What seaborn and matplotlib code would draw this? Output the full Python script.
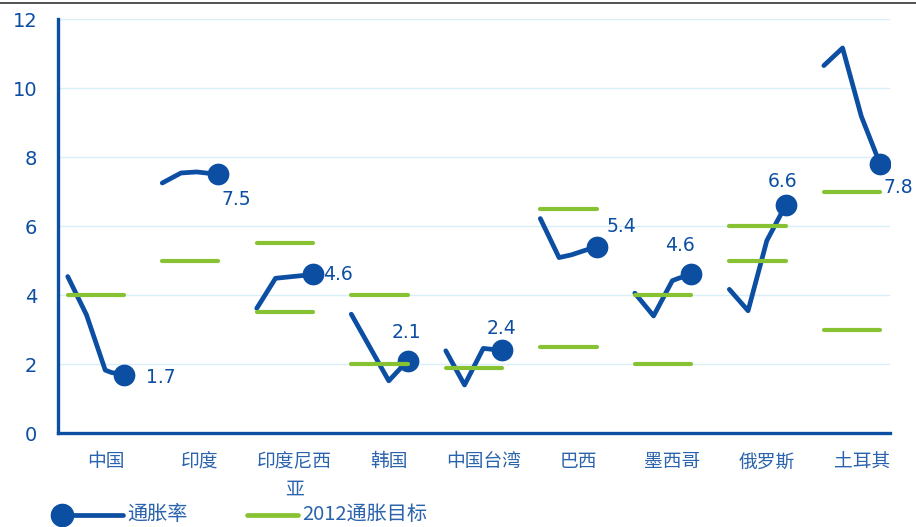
import matplotlib
matplotlib.use("Agg")
import matplotlib.pyplot as plt
from matplotlib.lines import Line2D
import numpy as np
import pandas as pd
import seaborn as sns

# ---- data -------------------------------------------------------------
regions = ["中国", "印度", "印度尼西亚", "韩国", "中国台湾", "巴西", "墨西哥", "俄罗斯", "土耳其"]
region_labels = ["中国", "印度", "印度尼西\n亚", "韩国", "中国台湾", "巴西", "墨西哥", "俄罗斯", "土耳其"]

# month index within the year (0 = Jan) for each inflation reading
cpi_months = [
    [0, 3, 6, 7, 9],
    [0, 3, 5.5, 9],
    [0, 3, 9],
    [0, 6, 9],
    [0, 3, 6, 7, 9],
    [0, 3, 5, 7, 9],
    [0, 3, 6, 7, 9],
    [0, 3, 6, 7, 9],
    [0, 3, 6, 9],
]
# inflation rate (%); the last reading of each series is the latest value
cpi_values = [
    [4.54, 3.43, 1.83, 1.76, 1.7],
    [7.25, 7.54, 7.57, 7.5],
    [3.62, 4.49, 4.6],
    [3.45, 1.52, 2.1],
    [2.39, 1.40, 2.46, 2.44, 2.4],
    [6.22, 5.09, 5.17, 5.29, 5.4],
    [4.06, 3.40, 4.42, 4.49, 4.6],
    [4.17, 3.55, 5.58, 5.92, 6.6],
    [10.65, 11.16, 9.18, 7.8],
]
# 2012 inflation targets (upper / lower bound, None where there is a single target)
target_upper = [4.0, 5.0, 5.5, 4.0, 1.9, 6.5, 4.0, 6.0, 7.0]
target_lower = [None, None, 3.5, 2.0, None, 2.5, 2.0, 5.0, 3.0]

yticks = [0, 2, 4, 6, 8, 10, 12]

# ---- style ------------------------------------------------------------
BLUE = "#0b4ea2"
GREEN = "#86c232"
GRID = "#d8eef9"
XLAB = "#2b63ad"

sns.set_theme(style="white")
plt.rcParams["font.family"] = ["DejaVu Sans", "Noto Sans CJK SC"]

W, H = 916, 527
fig = plt.figure(figsize=(W / 100, H / 100), dpi=100)
ax = fig.add_axes([58.3 / W, 1 - 433.3 / H, (890 - 58.3) / W, (433.3 - 19) / H])

# x position of a reading inside its category slot
SLOT_START, SLOT_SPAN, LAST_MONTH = -0.40, 0.595, 9.0


def slot_x(i, m):
    return i + SLOT_START + SLOT_SPAN * np.asarray(m, dtype=float) / LAST_MONTH


rows = []
for i, r in enumerate(regions):
    for m, v in zip(cpi_months[i], cpi_values[i]):
        rows.append({"region": r, "x": float(slot_x(i, m)), "value": v})
df = pd.DataFrame(rows)

latest = pd.DataFrame({
    "region": regions,
    "x": [float(slot_x(i, cpi_months[i][-1])) for i in range(len(regions))],
    "value": [v[-1] for v in cpi_values],
})

# grid
for yv in yticks[1:]:
    ax.axhline(yv, color=GRID, lw=1.0, zorder=0)

sns.lineplot(data=df, x="x", y="value", units="region", estimator=None, sort=False,
             color=BLUE, lw=3.4, solid_capstyle="round", solid_joinstyle="round",
             ax=ax, zorder=3, legend=False)
sns.scatterplot(data=latest, x="x", y="value", s=245, color=BLUE, edgecolor=BLUE,
                linewidth=0, ax=ax, zorder=4, legend=False)

# target bars
for i in range(len(regions)):
    x0, x1 = float(slot_x(i, 0)), float(slot_x(i, LAST_MONTH))
    for t in (target_upper[i], target_lower[i]):
        if t is not None:
            ax.plot([x0, x1], [t, t], color=GREEN, lw=3.0, solid_capstyle="round", zorder=5)

# value labels next to the latest reading (offsets in pixels)
label_pos = [
    (22, -3, "left"), (3, -25, "left"), (10, 0, "left"), (-1, 28, "center"),
    (-1, 22, "center"), (10, 20, "left"), (-11, 29, "center"), (-3, 24, "center"),
    (3, -23, "left"),
]
for i, (dx, dy, ha) in enumerate(label_pos):
    ax.annotate(f"{latest['value'][i]:.1f}", (latest["x"][i], latest["value"][i]),
                xytext=(dx, dy), textcoords="offset pixels", ha=ha, va="center",
                fontsize=13.5, color=BLUE, zorder=6)

# axes
ax.set_xlim(-0.5, 8.30)
ax.set_ylim(0, 12)
ax.set_yticks(yticks)
ax.set_yticklabels([str(v) for v in yticks])
ax.set_xticks(np.arange(len(regions) - 1) - 0.5)
ax.set_xticklabels([])
ax.set_xticks(np.arange(len(regions)), minor=True)
ax.set_xticklabels(region_labels, minor=True, family=["Noto Sans CJK SC", "DejaVu Sans"],
                   fontsize=13.5, color=XLAB, linespacing=1.4)
ax.tick_params(axis="x", which="minor", length=0, pad=13)
ax.tick_params(axis="x", which="major", length=6, width=1.6, color=BLUE, direction="out")
ax.tick_params(axis="y", length=6, width=1.6, color=BLUE, direction="out", pad=9,
               labelsize=14, labelcolor=BLUE)
ax.set_xlabel("")
ax.set_ylabel("")
for s in ("top", "right"):
    ax.spines[s].set_visible(False)
for s in ("left", "bottom"):
    ax.spines[s].set_color(BLUE)
    ax.spines[s].set_linewidth(2.4)
ax.set_facecolor("white")

# header rule
fig.add_artist(Line2D([0, 1], [1 - 3.3 / H] * 2, transform=fig.transFigure,
                      color="#333333", lw=1.2))

# legend
ly = 1 - 515 / H
fig.add_artist(Line2D([62 / W, 123 / W], [ly, ly], transform=fig.transFigure,
                      color=BLUE, lw=3.4, solid_capstyle="round"))
fig.add_artist(Line2D([62 / W], [ly], transform=fig.transFigure, marker="o",
                      markersize=16, color=BLUE, lw=0))
fig.text(127 / W, ly, "通胀率", family=["Noto Sans CJK SC", "DejaVu Sans"],
         fontsize=14.5, color=XLAB, va="center", ha="left")
fig.add_artist(Line2D([247 / W, 298 / W], [ly, ly], transform=fig.transFigure,
                      color=GREEN, lw=3.4, solid_capstyle="round"))
fig.text(302 / W, ly, "2012通胀目标", family=["Noto Sans CJK SC", "DejaVu Sans"],
         fontsize=14.5, color=XLAB, va="center", ha="left")

fig.savefig("out.png", dpi=100, facecolor="white")
